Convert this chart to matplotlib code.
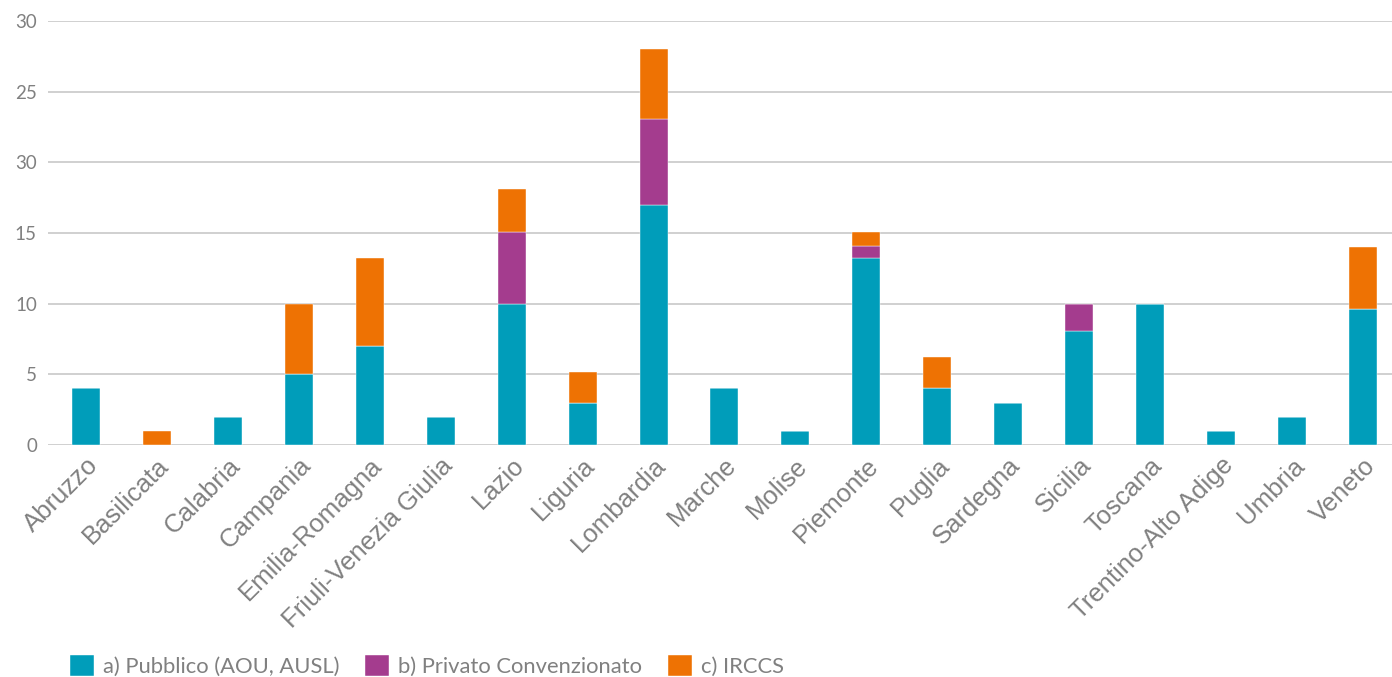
import matplotlib
matplotlib.use("Agg")
import matplotlib.pyplot as plt
import numpy as np

regioni = ["Abruzzo", "Basilicata", "Calabria", "Campania", "Emilia-Romagna",
           "Friuli-Venezia Giulia", "Lazio", "Liguria", "Lombardia", "Marche",
           "Molise", "Piemonte", "Puglia", "Sardegna", "Sicilia", "Toscana",
           "Trentino-Alto Adige", "Umbria", "Veneto"]
pubblico = [4, 0, 2, 5, 7, 2, 10, 3, 17, 4, 1, 13.2, 4, 3, 8.1, 10, 1, 2, 9.6]
privato = [0, 0, 0, 0, 0, 0, 5.1, 0, 6.1, 0, 0, 0.9, 0, 0, 1.9, 0, 0, 0, 0]
irccs = [0, 1, 0, 5, 6.2, 0, 3, 2.2, 4.9, 0, 0, 1, 2.2, 0, 0, 0, 0, 0, 4.4]
serie_nomi = ["a) Pubblico (AOU, AUSL)", "b) Privato Convenzionato", "c) IRCCS"]
colori = ["#009dba", "#a43c8e", "#ee7203"]
yticks = [0, 5, 10, 15, 20, 25, 30]
ytick_labels = ["0", "5", "10", "15", "30", "25", "30"]

grigio = "#808080"

fig = plt.figure(figsize=(13.92, 6.77), dpi=100)
ax = fig.add_axes([48 / 1392, 1 - 445 / 677, 1 - 48 / 1392, (445 - 21) / 677])

x = np.arange(len(regioni))
base = np.zeros(len(regioni))
for vals, nome, col in zip([pubblico, privato, irccs], serie_nomi, colori):
    ax.bar(x, vals, 0.395, bottom=base, color=col, label=nome, zorder=3,
           edgecolor="white", linewidth=0.3)
    base = base + np.array(vals)

ax.set_xlim(-0.536, 18.41)
ax.set_ylim(0, 30)
ax.set_yticks(yticks)
ax.set_yticklabels(ytick_labels, fontfamily="Lato", fontsize=13.5, color=grigio)
ax.yaxis.grid(True, color="#c8c8c8", linewidth=1.2, zorder=0)
ax.tick_params(axis="both", length=0)
ax.tick_params(axis="y", pad=8)
for s in ["top", "right", "left", "bottom"]:
    ax.spines[s].set_visible(False)

ax.set_xticks(x)
ax.set_xticklabels(regioni, rotation=45, ha="right", va="top",
                   rotation_mode="anchor", fontfamily="Liberation Sans",
                   fontsize=18.5, color=grigio)
ax.tick_params(axis="x", pad=6)

fig.legend(loc="center left", bbox_to_anchor=(0.044, 1 - 666 / 677),
           borderaxespad=0, ncol=3, frameon=False,
           handlelength=1.08, handleheight=1.08,
           columnspacing=1.2, handletextpad=0.4,
           prop={"family": "Lato", "size": 15.8}, labelcolor=grigio)

fig.savefig("out.png", dpi=100)
